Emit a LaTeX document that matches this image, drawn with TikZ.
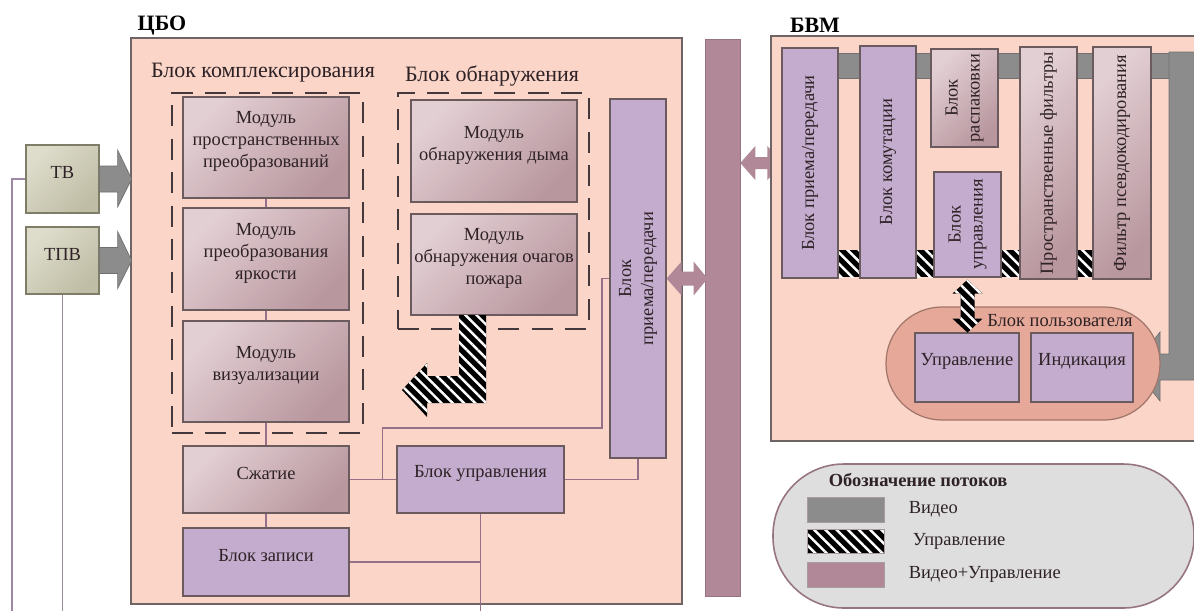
\documentclass[tikz,border=0pt]{standalone}
\usepackage{fontspec}
\setmainfont{Liberation Serif}
\usetikzlibrary{fit,patterns.meta}

\definecolor{peach}{HTML}{FAD5C8}
\definecolor{lilac}{HTML}{C3ACCD}
\definecolor{mauve}{HTML}{B08898}
\definecolor{video}{HTML}{8C8C8C}
\definecolor{userbg}{HTML}{E6A898}
\definecolor{legbg}{HTML}{DEDEDE}
\definecolor{wire}{HTML}{967088}
\definecolor{edge}{HTML}{6B5A5E}
\definecolor{frameedge}{HTML}{6E6464}
\definecolor{modlt}{HTML}{E2CFD3}
\definecolor{moddk}{HTML}{B9979F}
\definecolor{camlt}{HTML}{DEDDCC}
\definecolor{camdk}{HTML}{BFBDA5}
\definecolor{camedge}{HTML}{7F7C68}
\definecolor{ink}{HTML}{2E2226}

\tikzset{
	base/.style={draw=edge, line width=0.7pt, inner sep=0pt, text=ink, align=center, font=\fontsize{10.5}{12.5}\selectfont},
	modbox/.style={base, top color=modlt, bottom color=moddk, shading angle=45},
	lilbox/.style={base, fill=lilac},
	cambox/.style={base, draw=camedge, top color=camlt, bottom color=camdk, shading angle=45},
	frame/.style={draw=frameedge, line width=0.8pt, fill=peach, inner sep=0pt},
	dbox/.style={draw=ink!90, line width=1.6pt, dash pattern=on 12pt off 7pt, inner sep=0pt},
	vtext/.style={rotate=90, align=center, text=ink, inner sep=0pt, font=\fontsize{10.5}{12.5}\selectfont},
	txt/.style={text=ink, inner sep=0pt, align=center, font=\fontsize{10.5}{12.5}\selectfont},
	grp/.style={text=ink, inner sep=0pt, font=\fontsize{12.5}{15}\selectfont},
	hdr/.style={text=black, inner sep=0pt, font=\fontsize{12.5}{15}\selectfont\bfseries},
	wire/.style={draw=wire, line width=0.6pt},
	camwire/.style={draw=lilac!80!black, line width=0.7pt},
	varrow/.style={fill=video, draw=video!80!black, line width=0.4pt},
	busarrow/.style={fill=mauve},
	hatch/.style={preaction={fill=black}, pattern={Lines[angle=-45,distance=4.5pt,line width=1.4pt]}, pattern color=white},
	userbox/.style={draw=userbg!70!black, line width=0.7pt, fill=userbg, inner sep=0pt, rounded corners=1.12cm},
	legbox/.style={draw=mauve!85!black, line width=0.9pt, fill=legbg, inner sep=0pt, rounded corners=1.42cm},
	swatch/.style={draw=edge!60, line width=0.5pt, inner sep=0pt}
}

\newcommand\camarrow[1]{\path[varrow, shift={(#1.east)}] (0,-13) -- (18,-13) -- (18,-29) -- (32,0) -- (18,28) -- (18,13) -- (0,13) -- cycle;}

\begin{document}
\begin{tikzpicture}[x=0.02cm, y=-0.02cm]
	%%%%% START %%%%%
	\clip (0,0) rectangle (1194,610);
	\fill[white] (0,0) rectangle (1194,610);

	% ЦБО
	\node[hdr] (cbol) at (162,26) {ЦБО};
	\node[frame, fit={(131,38) (682,604)}] (cbo) {};

	\node[grp] (kbt) at (263,73) {Блок комплексирования};
	\node[dbox, fit={(172,93) (363,433)}] (kb) {};
	\node[modbox, fit={(183,97) (349,198)}] (m1) {Модуль\\пространственных\\преобразований};
	\node[modbox, fit={(183,208) (349,310)}] (m2) {Модуль\\преобразования\\яркости};
	\node[modbox, fit={(183,321) (349,422)}] (m3) {Модуль\\визуализации};
	\node[modbox, fit={(183,446) (349,513)}] (szh) {Сжатие};
	\node[lilbox, fit={(183,528) (349,596)}] (zap) {Блок записи};

	\node[grp] (obt) at (492,76) {Блок обнаружения};
	\node[dbox, fit={(398,93) (589,329)}] (ob) {};
	\node[modbox, fit={(411,100) (577,202)}] (dym) {Модуль\\обнаружения дыма};
	\node[modbox, fit={(411,214) (577,315)}] (och) {Модуль\\обнаружения очагов\\пожара};

	\node[lilbox, fit={(610,99) (666,458)}, label={[vtext]center:Блок\\приема/передачи}] (tx) {};
	\node[lilbox, fit={(397,446) (564,513)}] (bu) {Блок управления};

	\coordinate (bot) at (0,612);
	\path (szh.east) -- (bu.west) coordinate[pos=0.71] (j1);
	\draw[wire] (m1) -- (m2);
	\draw[wire] (m2) -- (m3);
	\draw[wire] (m3) -- (szh);
	\draw[wire] (szh) -- (zap);
	\draw[wire] (szh) -- (bu);
	\draw[wire] (j1) |- (602,428) |- (tx.west);
	\draw[wire] (bu.east) -| (tx.south);
	\draw[wire] (bu.south) -- (bu.south |- bot);
	\draw[wire] (zap.east) -- (zap.east -| bu.south);

	\path[hatch] (459,315) -- (486,315) -- (486,403) -- (427,403) -- (427,417) -- (402,390) -- (427,363) -- (427,376) -- (459,376) -- cycle;

	% cameras
	\node[cambox, fit={(26,145) (99,213)}] (tv) {ТВ};
	\node[cambox, fit={(26,227) (99,294)}] (tpv) {ТПВ};
	\camarrow{tv}
	\camarrow{tpv}
	\draw[camwire] (tv.west) -| (12,612);
	\draw[camwire] (tpv.south) -- (tpv.south |- bot);

	% bus
	\node[fill=mauve, draw=mauve!85!black, line width=0.4pt, inner sep=0pt, fit={(705,39) (740,596)}] (bus) {};
	\path[busarrow, shift={(tx.east)}] (0,0) -- (15,-17) -- (15,-7) -- (27,-7) -- (27,-17) -- (41,0) -- (27,17) -- (27,7) -- (15,7) -- (15,17) -- cycle;
	\path[busarrow, shift={(bus.east |- 0,163)}] (0,0) -- (15,-17) -- (15,-6) -- (27,-6) -- (27,-17) -- (42,0) -- (27,17) -- (27,6) -- (15,6) -- (15,17) -- cycle;

	% БВМ
	\node[hdr] (bvml) at (815,25) {БВМ};
	\node[frame, fit={(771,36) (1210,441)}] (bvm) {};
	\path[varrow] (838,53) rectangle (1169,78);
	\path[hatch] (838,250) rectangle (1093,277);
	\path[varrow] (1169,52) -- (1169,354) -- (1160,354) -- (1160,332) -- (1133,367) -- (1160,401) -- (1160,380) -- (1200,380) -- (1200,52) -- cycle;

	\node[lilbox, fit={(782,48) (838,278)}, label={[vtext]center:Блок приема/передачи}] (bpr) {};
	\node[lilbox, fit={(860,46) (916,278)}, label={[vtext]center:Блок комутации}] (bkom) {};
	\node[modbox, fit={(931,49) (998,147)}, label={[vtext]center:Блок\\распаковки}] (rasp) {};
	\node[lilbox, fit={(934,172) (1001,277)}, label={[vtext]center:Блок\\управления}] (bupr) {};
	\node[modbox, fit={(1020,47) (1077,279)}, label={[vtext]center:Пространственные фильтры}] (pf) {};
	\node[modbox, fit={(1093,47) (1151,279)}, label={[vtext]center:Фильтр псевдокодирования}] (fpk) {};

	\node[userbox, fit={(886,307) (1160,420)}] (usr) {};
	\node[txt] (usrt) at (1060,321) {Блок пользователя};
	\node[lilbox, fit={(915,333) (1019,402)}] (upr) {Управление};
	\node[lilbox, fit={(1031,333) (1133,402)}] (ind) {Индикация};
	\path[hatch, shift={(bupr.south)}] (0,2) -- (15,16) -- (7,16) -- (7,41) -- (15,41) -- (0,55) -- (-15,41) -- (-7,41) -- (-7,16) -- (-15,16) -- cycle;

	% legend
	\node[legbox, fit={(773,464) (1194,608)}] (leg) {};
	\node[txt, font=\fontsize{10.5}{12.5}\selectfont\bfseries] (legt) at (918,480) {Обозначение потоков};
	\node[swatch, fill=video, fit={(807,497) (884,522)}] (sw1) {};
	\node[swatch, hatch, fit={(807,529) (884,553)}] (sw2) {};
	\node[swatch, fill=mauve, fit={(807,562) (884,587)}] (sw3) {};
	\node[txt, anchor=west] (lb1) at ([xshift=0.48cm]sw1.east) {Видео};
	\node[txt, anchor=west] (lb2) at ([xshift=0.56cm]sw2.east) {Управление};
	\node[txt, anchor=west] (lb3) at ([xshift=0.48cm]sw3.east) {Видео+Управление};
	%%%%% END %%%%%
\end{tikzpicture}
\end{document}
